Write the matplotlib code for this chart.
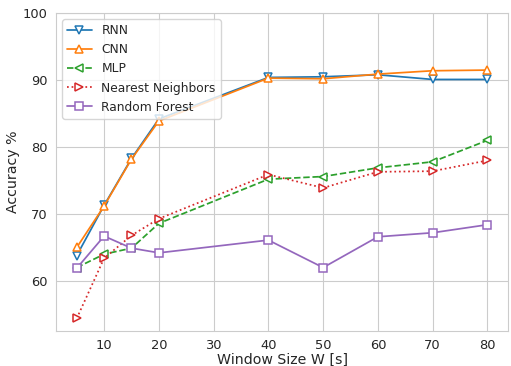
import matplotlib
matplotlib.use("Agg")
import matplotlib.pyplot as plt
import seaborn as sns

window = [5, 10, 15, 20, 40, 50, 60, 70, 80]
rnn = [63.8, 71.3, 78.3, 84.2, 90.4, 90.5, 90.8, 90.1, 90.1]
cnn = [65.0, 71.2, 78.2, 83.9, 90.3, 90.2, 90.9, 91.4, 91.5]
mlp = [62.0, 64.0, 64.9, 68.6, 75.2, 75.6, 76.9, 77.8, 81.0]
knn = [54.4, 63.4, 66.8, 69.3, 75.9, 73.9, 76.3, 76.4, 78.0]
forest = [61.9, 66.7, 64.9, 64.2, 66.1, 62.0, 66.6, 67.2, 68.4]

sns.set_style("whitegrid")

fig, ax = plt.subplots(figsize=(5.11, 3.66), dpi=100)

# (label, values, colour, marker, linestyle)
series = [
    ("RNN", rnn, "#1f77b4", "v", "-"),
    ("CNN", cnn, "#ff7f0e", "^", "-"),
    ("MLP", mlp, "#2ca02c", "<", "--"),
    ("Nearest Neighbors", knn, "#d62728", ">", ":"),
    ("Random Forest", forest, "#9467bd", "s", "-"),
]
for label, vals, col, mk, ls in series:
    ax.plot(window, vals, color=col, marker=mk, linestyle=ls, label=label,
            markerfacecolor="white", markeredgecolor=col, markersize=6,
            markeredgewidth=1.1, linewidth=1.25)

ax.set_ylim(top=100)
ax.set_yticks([60, 70, 80, 90, 100])
ax.set_xticks([10, 20, 30, 40, 50, 60, 70, 80])
ax.tick_params(labelsize=9.4, pad=2.5)
ax.set_xlabel("Window Size W [s]", fontsize=10.2, labelpad=0.5)
ax.set_ylabel("Accuracy %", fontsize=10.2, labelpad=2)
ax.legend(loc="upper left", fontsize=8.8, frameon=True)

fig.subplots_adjust(left=0.11, right=0.994, top=0.964, bottom=0.096)
fig.savefig("out.png", dpi=100)
